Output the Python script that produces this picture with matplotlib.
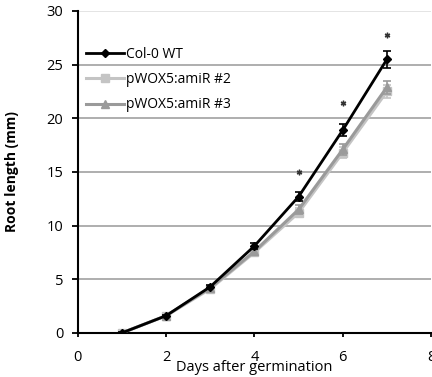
import matplotlib
matplotlib.use("Agg")
import matplotlib.pyplot as plt
from matplotlib.lines import Line2D

# root length over time, mean +- error
days = [1, 2, 3, 4, 5, 6, 7]
wt = [0.0, 1.6, 4.3, 8.1, 12.7, 18.9, 25.5]
wt_err = [0.05, 0.1, 0.15, 0.25, 0.4, 0.6, 0.8]
amir2 = [0.0, 1.6, 4.1, 7.5, 11.2, 16.8, 22.5]
amir2_err = [0.05, 0.1, 0.15, 0.25, 0.4, 0.5, 0.6]
amir3 = [0.0, 1.6, 4.2, 7.6, 11.5, 17.1, 22.9]
amir3_err = [0.05, 0.1, 0.15, 0.25, 0.4, 0.5, 0.6]
# significance marks
star_days = [5, 6, 7]
star_y = [15.0, 21.4, 27.8]

plt.rcParams['font.family'] = ['Open Sans', 'DejaVu Sans']

fig = plt.figure(figsize=(4.32, 3.77), dpi=100)
ax = fig.add_axes([0.18, 0.117, 0.818, 0.854])

for y in [5, 10, 15, 20, 25]:
    ax.axhline(y, color='#a8a8a8', lw=1.3, zorder=0)
ax.axhline(30, color='#e2e2e2', lw=1.3, zorder=0)

styles = [
    ('Col-0 WT', wt, wt_err, 'black', 'D', 4.5, 2.0, 4),
    ('pWOX5:amiR #2', amir2, amir2_err, '#c4c4c4', 's', 6, 2.2, 2),
    ('pWOX5:amiR #3', amir3, amir3_err, '#9a9a9a', '^', 6, 2.2, 3),
]
handles = []
for name, vals, err, col, mk, ms, lw, z in styles:
    ax.errorbar(days, vals, yerr=err, color=col, marker=mk, ms=ms, lw=lw,
                capsize=3, elinewidth=1.2, capthick=1.2, zorder=z)
    handles.append(Line2D([], [], color=col, marker=mk, ms=ms, lw=lw, label=name))

ax.plot(star_days, star_y, linestyle='none', marker=(6, 2, 0), ms=4, color='#333333', mew=1)

ax.set_xlim(0, 8)
ax.set_ylim(0, 30)
ax.set_xticks([0, 2, 4, 6, 8])
ax.set_yticks([0, 5, 10, 15, 20, 25, 30])
ax.tick_params(labelsize=10.5, width=1.3, color='black')
ax.tick_params(axis='x', length=3, pad=9)
ax.tick_params(axis='y', length=4.5, pad=6)

for s in ['top', 'right']:
    ax.spines[s].set_visible(False)
for s in ['left', 'bottom']:
    ax.spines[s].set_linewidth(1.5)

ax.set_ylabel('Root length (mm)', fontsize=10, fontweight='bold')
ax.yaxis.set_label_coords(-0.165, 0.5)
ax.set_xlabel('Days after germination', fontsize=10.5)
ax.xaxis.set_label_coords(0.5, -0.085)

ax.legend(handles=handles, loc='upper left', bbox_to_anchor=(0.0, 0.915),
          frameon=False, fontsize=10, handlelength=2.7, handletextpad=0.2,
          labelspacing=0.75, borderaxespad=0.2)

fig.savefig('out.png', dpi=100)
